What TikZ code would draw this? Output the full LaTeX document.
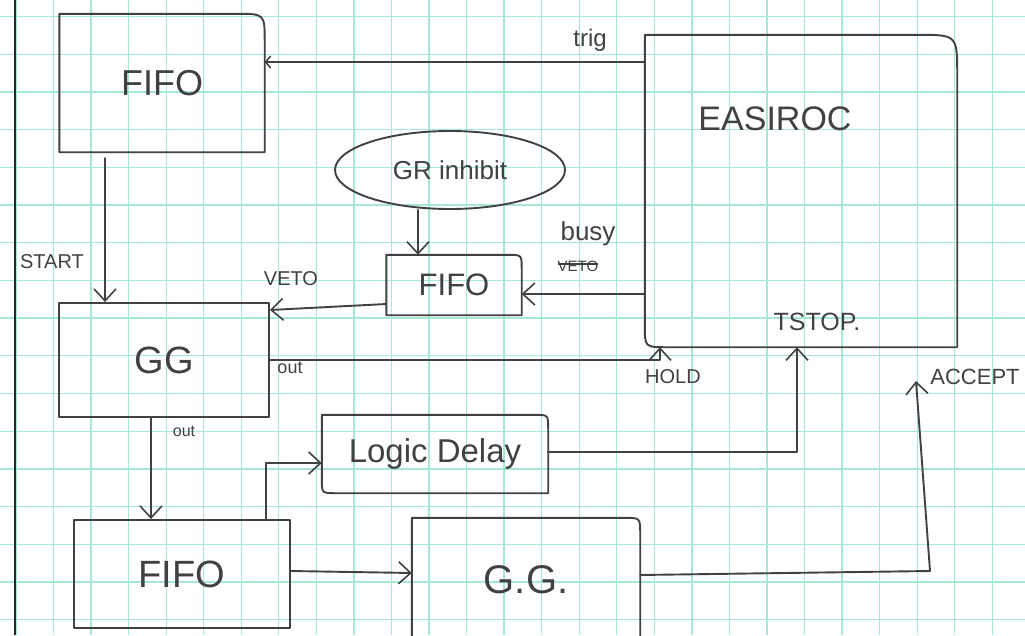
\documentclass[tikz,border=0pt]{standalone}
\usepackage{fontspec}
\setmainfont{Liberation Sans}
\usetikzlibrary{arrows.meta,calc,shapes.geometric}
\definecolor{gridc}{RGB}{165,232,216}
\definecolor{ink}{RGB}{65,65,65}
\newcommand{\fsz}[1]{\fontsize{#1}{#1}\selectfont}
\begin{document}
\begin{tikzpicture}[x=1pt,y=-1pt,
  ln/.style={draw=ink, line width=1.9pt, line join=round, line cap=round},
  arr/.style={ln, -{Straight Barb[length=12pt,width=22pt,line width=1.6pt]}},
  smallarr/.style={ln, -{Straight Barb[length=5pt,width=12pt,line width=1.5pt]}},
  box/.style={inner sep=0pt, text=ink},
  lbl/.style={inner sep=0pt, text=ink}]
\useasboundingbox (0,0) rectangle (1025,635);
\fill[white] (0,0) rectangle (1025,635);
% grid paper
\foreach \i in {0,...,27} \draw[gridc, line width=1.3pt] ({15.95+37.55*\i},0) -- ({15.95+37.55*\i},635);
\foreach \j in {0,...,16} \draw[gridc, line width=1.3pt] (0,{16.5+37.7*\j}) -- (1025,{16.5+37.7*\j});
\draw[black!85, line width=2.2pt] (15,0) -- (15,635);

% nodes
\node[box, minimum width=205, minimum height=138, font=\fsz{36}] (fifoA) at (162,83) {FIFO};
\node[box, minimum width=312, minimum height=312] (easiroc) at (801,191) {};
\node[lbl, font=\fsz{34}] (easirocT) at (775,119) {EASIROC};
\node[ln, ellipse, minimum width=230, minimum height=78, inner sep=0pt, text=ink, font=\fsz{26}] (grinh) at (450,170) {GR inhibit};
\node[box, minimum width=135, minimum height=60, font=\fsz{31}] (fifoB) at (454,285) {FIFO};
\node[box, ln, minimum width=210, minimum height=114, font=\fsz{38}] (gg) at (164,360) {GG};
\node[box, minimum width=226, minimum height=78, font=\fsz{33}] (logic) at (435,454) {Logic Delay};
\node[box, ln, minimum width=216, minimum height=108, font=\fsz{38}] (fifoC) at (182,574) {FIFO};
\node[box, minimum width=228, minimum height=124, font=\fsz{40}] (gg2) at (526,580) {G.G.};

% outlines with hand-drawn corners
\draw[ln] (fifoA.south west) -- (fifoA.north west) -- ($(fifoA.north east)+(-28,0)$) .. controls (fifoA.north east) .. ($(fifoA.north east)+(0,28)$) -- (fifoA.south east) -- cycle;
\draw[ln] (easiroc.north west) -- ($(easiroc.north east)+(-40,0)$) .. controls (easiroc.north east) .. ($(easiroc.north east)+(0,40)$) -- (easiroc.south east) -- ($(easiroc.south west)+(22,0)$) .. controls (easiroc.south west) .. ($(easiroc.south west)+(0,-22)$) -- cycle;
\draw[ln] (fifoB.south west) -- (fifoB.north west) -- ($(fifoB.north east)+(-14,0)$) .. controls (fifoB.north east) .. ($(fifoB.north east)+(0,14)$) -- (fifoB.south east) -- cycle;
\draw[ln] (logic.north west) -- ($(logic.north east)+(-14,0)$) .. controls (logic.north east) .. ($(logic.north east)+(0,14)$) -- (logic.south east) -- ($(logic.south west)+(14,0)$) .. controls (logic.south west) .. ($(logic.south west)+(0,-14)$) -- cycle;
\draw[ln] (gg2.south west) -- (gg2.north west) -- ($(gg2.north east)+(-16,0)$) .. controls (gg2.north east) .. ($(gg2.north east)+(0,16)$) -- (gg2.south east) -- cycle;

% connectors
\draw[smallarr] (easiroc.west |- 0,62) -- (fifoA.east |- 0,62);
\draw[arr] (easiroc.west |- 0,294) -- (fifoB.east |- 0,294);
\draw[arr] (fifoB.west |- 0,304) -- (gg.east |- 0,310);
\draw[arr] ([xshift=-32pt]grinh.south) -- ([xshift=-32pt]grinh.south |- fifoB.north);
\draw[arr, shorten <=6pt] (fifoA.south -| 105,0) -- (gg.north -| 105,0);
\draw[arr] (gg.east |- 0,360) -| (easiroc.south -| 660,0);
\draw[arr] (gg.south -| 151,0) -- (fifoC.north -| 151,0);
\draw[arr] (fifoC.north -| 266,0) |- (logic.west |- 0,463);
\draw[arr] (fifoC.east |- 0,571) -- (gg2.west |- 0,573);
\draw[arr] (logic.east |- 0,452) -| (easiroc.south -| 797,0);
\coordinate (acc) at (916,381);
\coordinate (accb) at (930,571);
\draw[arr] (gg2.east |- 0,575) -- (accb) -- (acc);

% labels
\node[lbl, font=\fsz{24}] (trig) at (590,40) {trig};
\node[lbl, font=\fsz{26}] (busy) at (588,234) {busy};
\node[lbl, font=\fsz{15}] (vetox) at (578,266) {VETO};
\draw[ink, line width=1.4pt] ([yshift=2pt]vetox.west) -- ([yshift=2pt]vetox.east);
\node[lbl, font=\fsz{20}] (veto) at (291,279) {VETO};
\node[lbl, font=\fsz{20}] (start) at (52,262) {START};
\node[lbl, font=\fsz{18}] (out1) at (290,368) {out};
\node[lbl, font=\fsz{16}] (out2) at (184,431) {out};
\node[lbl, font=\fsz{20}] (hold) at (673,377) {HOLD};
\node[lbl, font=\fsz{25}] (tstop) at (817,322) {TSTOP.};
\node[lbl, font=\fsz{22}] (accept) at (975,377) {ACCEPT};
\end{tikzpicture}
\end{document}
